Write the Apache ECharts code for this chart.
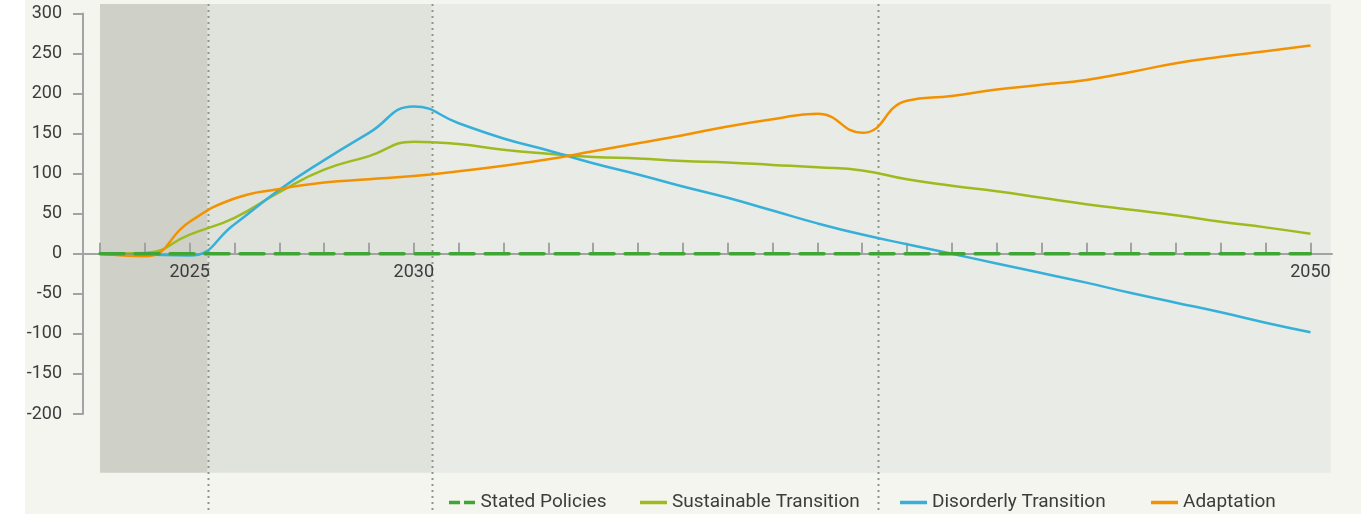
<!DOCTYPE html>
<html>
<head>
<meta charset="utf-8">
<script src="https://cdn.jsdelivr.net/npm/echarts@6/dist/echarts.min.js"></script>
<style>
  html, body { margin: 0; padding: 0; background: #f4f5ee; }
  #chart { width: 1361px; height: 514px; }
</style>
</head>
<body>
<div id="chart"></div>
<script>
// Scenario projections, one value per year
const years = [2023, 2024, 2025, 2026, 2027, 2028, 2029, 2030, 2031, 2032, 2033, 2034, 2035, 2036,
               2037, 2038, 2039, 2040, 2041, 2042, 2043, 2044, 2045, 2046, 2047, 2048, 2049, 2050];
const statedPolicies = [0, 0, 0, 0, 0, 0, 0, 0, 0, 0, 0, 0, 0, 0, 0, 0, 0, 0, 0, 0, 0, 0, 0, 0, 0, 0, 0, 0];
const sustainableTransition = [0, 1, 24, 45, 77, 105, 122, 140, 137, 130, 125, 121, 119, 116,
                               114, 111, 108, 104, 93, 85, 78, 70, 62, 55, 48, 40, 33, 25];
const disorderlyTransition = [0, -1, -2, 37, 80, 117, 151, 184, 163, 144, 129, 113, 99, 84,
                              70, 54, 38, 24, 12, 0, -12, -24, -36, -49, -61, -73, -86, -98];
const adaptation = [0, -3, 40, 69, 81, 89, 93, 97, 103, 110, 118, 128, 138, 148,
                    159, 168, 175, 151, 191, 197, 205, 211, 217, 227, 238, 246, 253, 260];

// Years that carry a label on the x axis
const xLabelYears = [2025, 2030, 2050];

// Period shading (start/end years) and period dividers
const periodBounds = [2023, 2025.4, 2030.4, 2050.45];
const periodColors = ['#cfd1c8', '#e0e2dc', '#e9ebe6'];
const dividerYears = [2025.4, 2030.4, 2040.35];

const seriesNames = ['Stated Policies', 'Sustainable Transition', 'Disorderly Transition', 'Adaptation'];
const seriesColors = ['#3fa535', '#9dbb1f', '#36b0d8', '#f39200'];
const seriesValues = [statedPolicies, sustainableTransition, disorderlyTransition, adaptation];

const FONT = 'Roboto';
const TEXT = '#3c3c3c';
const AXIS = '#a3a3a3';

const chart = echarts.init(document.getElementById('chart'), null, { renderer: 'canvas' });

function pairs(vals) { return years.map((y, i) => [y, vals[i]]); }

const lineSeries = seriesNames.map((name, i) => ({
  name,
  type: 'line',
  data: pairs(seriesValues[i]),
  smooth: i === 0 ? false : 0.5,
  symbol: 'none',
  z: i === 0 ? 5 : 3,
  lineStyle: i === 0
    ? { color: seriesColors[i], width: 3.5, type: [24, 11], cap: 'round' }
    : { color: seriesColors[i], width: 2.5 },
  itemStyle: { color: seriesColors[i] }
}));

// Legend keys: a dashed key for the baseline, plain strokes for the scenarios
const DASH_ICON = 'path://M0,0H11V3.5H0Z M15,0H26V3.5H15Z';
const legendLefts = [449, 640, 900, 1151];
const legends = seriesNames.map((name, i) => ({
  left: legendLefts[i],
  top: 493,
  padding: 0,
  itemWidth: 27,
  itemHeight: 3.5,
  data: [{ name, icon: i === 0 ? DASH_ICON : 'rect' }],
  textStyle: { fontFamily: FONT, fontSize: 19, color: TEXT }
}));

chart.setOption({
  backgroundColor: '#f4f5ee',
  animation: false,
  grid: { left: 83, right: 29, top: 13.5, bottom: 100 },
  legend: legends,
  xAxis: {
    type: 'value',
    min: 2022.62,
    max: 2050.48,
    splitLine: { show: false },
    axisLine: { onZero: true, lineStyle: { color: AXIS, width: 2 } },
    axisTick: { show: true, inside: true, length: 11, customValues: years,
                lineStyle: { color: AXIS, width: 2 } },
    axisLabel: { show: false }
  },
  yAxis: {
    type: 'value',
    min: -200,
    max: 300,
    interval: 50,
    splitLine: { show: false },
    axisLine: { show: true, onZero: false, lineStyle: { color: AXIS, width: 2 } },
    axisTick: { show: true, length: 10, lineStyle: { color: AXIS, width: 2 } },
    axisLabel: { margin: 21, fontFamily: FONT, fontSize: 18, color: TEXT }
  },
  series: lineSeries
});

// Period shading, dotted dividers and year labels under the zero line,
// all placed through the chart's own coordinate system
function drawOverlay() {
  const toPx = (x, y) => chart.convertToPixel({ gridIndex: 0 }, [x, y]);
  const bandTop = 4, bandBottom = 472.7, lineTop = 4, lineBottom = 514;
  const els = [{ type: 'rect', z: -20, silent: true,
                 shape: { x: 0, y: 0, width: 25, height: 514 }, style: { fill: '#ffffff' } }];
  for (let i = 0; i < periodColors.length; i++) {
    const x0 = toPx(periodBounds[i], 0)[0], x1 = toPx(periodBounds[i + 1], 0)[0];
    els.push({ type: 'rect', z: -10, silent: true,
      shape: { x: x0, y: bandTop, width: x1 - x0, height: bandBottom - bandTop },
      style: { fill: periodColors[i] } });
  }
  dividerYears.forEach(yr => {
    const x = Math.round(toPx(yr, 0)[0]) + 0.5;
    els.push({ type: 'line', z: -5, silent: true,
      shape: { x1: x, y1: lineTop, x2: x, y2: lineBottom },
      style: { stroke: '#8c9886', lineWidth: 2, lineDash: [2, 4] } });
  });
  xLabelYears.forEach(yr => {
    const p = toPx(yr, 0);
    els.push({ type: 'text', z: 10, silent: true, x: p[0], y: p[1] + 10,
      style: { text: String(yr), fontFamily: FONT, fontSize: 18, fill: TEXT,
               align: 'center', verticalAlign: 'top' } });
  });
  chart.setOption({ graphic: els });
}
drawOverlay();
</script>
</body>
</html>
